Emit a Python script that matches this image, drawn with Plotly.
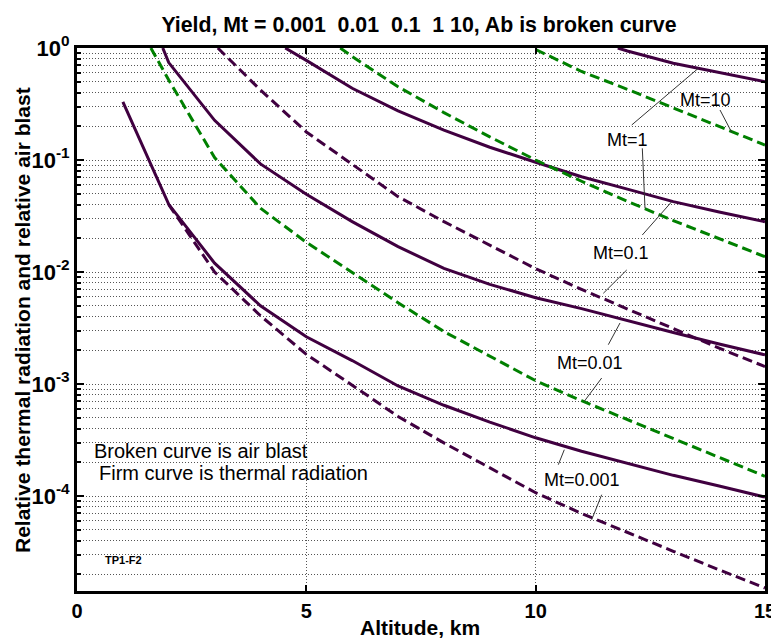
import plotly.graph_objects as go
import numpy as np

# ---------------- data ----------------
# altitude in km, relative values (thermal radiation = firm, air blast = broken)
thermal_0001_alt = [1, 2, 3, 4, 5, 6, 7, 8, 9, 10, 11, 12, 13, 14, 15]
thermal_0001 = [0.33, 0.0402, 0.0120, 0.0050, 0.00264, 0.00162, 0.00096, 0.000646,
                0.000457, 0.000331, 0.000251, 0.000195, 0.000153, 0.000123, 0.0000977]

blast_0001_alt = [2, 3, 4, 5, 6, 7, 8, 9, 10, 11, 12, 13, 14, 15]
blast_0001 = [0.040, 0.0100, 0.00407, 0.00184, 0.000977, 0.000513, 0.000298, 0.000178,
              0.000107, 6.99e-5, 4.71e-5, 3.21e-5, 2.19e-5, 1.51e-5]

thermal_001_alt = [1.87, 2, 3, 4, 5, 6, 7, 8, 9, 10, 11, 12, 13, 14, 15]
thermal_001 = [1.0, 0.741, 0.226, 0.0923, 0.0495, 0.0282, 0.01683, 0.01079, 0.00776,
               0.00589, 0.00471, 0.00367, 0.00288, 0.00228, 0.00182]

blast_001_alt = [1.61, 2, 3, 4, 5, 6, 7, 8, 9, 10, 11, 12, 13, 14, 15]
blast_001 = [1.0, 0.518, 0.105, 0.0371, 0.0184, 0.00986, 0.00532, 0.00294, 0.00178,
             0.00107, 0.00071, 0.00048, 0.000325, 0.00022, 0.00015]

thermal_01_alt = [4.54, 5, 6, 7, 8, 9, 10, 11, 12, 13, 14, 15]
thermal_01 = [1.0, 0.776, 0.437, 0.275, 0.185, 0.130, 0.0955, 0.0708, 0.055, 0.0425,
              0.0343, 0.0281]

blast_01_alt = [3.07, 4, 5, 6, 7, 8, 9, 10, 11, 12, 13, 14, 15]
blast_01 = [1.0, 0.422, 0.178, 0.0908, 0.0471, 0.0282, 0.0173, 0.0107, 0.0070, 0.00468,
            0.00313, 0.00209, 0.00143]

thermal_1_alt = [11.79, 12, 13, 14, 15]
thermal_1 = [1.0, 0.94, 0.73, 0.607, 0.50]

blast_1_alt = [5.74, 6, 7, 8, 9, 10, 11, 12, 13, 14, 15]
blast_1 = [1.0, 0.839, 0.451, 0.265, 0.161, 0.100, 0.0646, 0.0427, 0.0288, 0.020, 0.0137]

blast_10_alt = [10, 11, 12, 13, 14, 15]
blast_10 = [0.97, 0.617, 0.427, 0.291, 0.20, 0.136]

x_tick_vals = [0, 5, 10, 15]
y_tick_vals = [1e-4, 1e-3, 1e-2, 1e-1, 1]
y_tick_text = ["10<sup>-4</sup>", "10<sup>-3</sup>", "10<sup>-2</sup>", "10<sup>-1</sup>", "10<sup>0</sup>"]

title_text = "Yield, Mt = 0.001\u00a0\u00a00.01\u00a0\u00a00.1\u00a0\u00a01 10, Ab is broken curve"
label_texts = ["Mt=10", "Mt=1", "Mt=0.1", "Mt=0.01", "Mt=0.001"]

# ---------------- styling ----------------
FONT = "Liberation Sans, Arial, sans-serif"
PURPLE = "#400040"
GREEN = "#008000"
DASH = "10px,5px"
W, H = 779, 639
OFF = 8                      # page body offset of the figure on screen
SL, SR, ST, SB = 77, 765, 48, 591   # plot-area edges in screen pixels
L, T = SL - OFF, ST - OFF
R = W - (SR - OFF)
B = H - (SB - OFF)
PW, PH = SR - SL, SB - ST


def px(xs):
    return (xs - SL) / PW


def py(ys):
    return (SB - ys) / PH


fig = go.Figure()

curves = [
    (thermal_0001_alt, thermal_0001, PURPLE, "solid"),
    (blast_0001_alt, blast_0001, PURPLE, DASH),
    (thermal_001_alt, thermal_001, PURPLE, "solid"),
    (blast_001_alt, blast_001, GREEN, DASH),
    (thermal_01_alt, thermal_01, PURPLE, "solid"),
    (blast_01_alt, blast_01, PURPLE, DASH),
    (thermal_1_alt, thermal_1, PURPLE, "solid"),
    (blast_1_alt, blast_1, GREEN, DASH),
    (blast_10_alt, blast_10, GREEN, DASH),
]
for xs, ys, col, dash in curves:
    fig.add_trace(go.Scatter(x=xs, y=ys, mode="lines",
                             line=dict(color=col, width=3, dash=dash),
                             showlegend=False, hoverinfo="skip"))

ymin = 10 ** -4.848
minor_vals = [k * 10.0 ** d for d in range(-5, 0) for k in range(2, 10) if k * 10.0 ** d > ymin]

GRIDCOL = "#555555"
GDASH = "1px,2px"
fig.update_xaxes(range=[0, 15], tickmode="array", tickvals=x_tick_vals,
                 ticks="inside", ticklen=6, tickwidth=2, tickcolor="black",
                 showline=True, linewidth=3, linecolor="black", mirror="ticks",
                 showgrid=True, gridcolor=GRIDCOL, griddash=GDASH, gridwidth=1,
                 zeroline=False, automargin=False,
                 tickfont=dict(family=FONT, size=20, color="black", weight="bold"))
fig.update_yaxes(type="log", range=[-4.848, 0], tickmode="array",
                 tickvals=y_tick_vals, ticktext=y_tick_text,
                 ticks="inside", ticklen=7, tickwidth=2, tickcolor="black",
                 showline=True, linewidth=3, linecolor="black", mirror="allticks",
                 showgrid=True, gridcolor=GRIDCOL, griddash=GDASH, gridwidth=1,
                 zeroline=False, automargin=False,
                 tickfont=dict(family=FONT, size=22, color="black", weight="bold"),
                 minor=dict(tickmode="array", tickvals=minor_vals, ticks="inside",
                            ticklen=4, tickwidth=1.5, tickcolor="black",
                            showgrid=True, gridcolor=GRIDCOL, griddash=GDASH, gridwidth=1))

fig.update_layout(
    width=W, height=H,
    margin=dict(l=L, r=R, t=T, b=B, pad=0, autoexpand=False),
    plot_bgcolor="white", paper_bgcolor="white",
    title=dict(text="<b>" + title_text + "</b>", x=px(419), xref="paper",
               y=1 - (25 - OFF) / H, yref="container", yanchor="middle", xanchor="center",
               automargin=False,
               font=dict(family=FONT, size=21.3, color="black")),
)

ann = []
# axis titles
ann.append(dict(text="<b>Relative thermal radiation and relative air blast</b>",
                x=px(22), y=py(320), xref="paper", yref="paper", textangle=-90,
                xanchor="center", yanchor="middle",
                showarrow=False, font=dict(family=FONT, size=21, color="black")))
ann.append(dict(text="<b>Altitude, km</b>", x=px(420), y=py(627), xref="paper", yref="paper",
                xanchor="center", yanchor="middle",
                showarrow=False, font=dict(family=FONT, size=21, color="black")))

# curve labels
label_pos = [(705, 100), (627, 140), (621, 253), (590, 363), (582, 480)]
for t, (lx, ly) in zip(label_texts, label_pos):
    ann.append(dict(text=t, x=px(lx), y=py(ly), xref="paper", yref="paper",
                    xanchor="center", yanchor="middle",
                    showarrow=False, font=dict(family=FONT, size=18, color="black")))

# notes
ann.append(dict(text="Broken curve is air blast", x=px(92), y=py(451), xref="paper", yref="paper",
                xanchor="left", yanchor="middle", showarrow=False,
                font=dict(family=FONT, size=20, color="black")))
ann.append(dict(text="Firm curve is thermal radiation", x=px(97), y=py(473), xref="paper", yref="paper",
                xanchor="left", yanchor="middle", showarrow=False,
                font=dict(family=FONT, size=20, color="black")))
ann.append(dict(text="<b>TP1-F2</b>", x=px(103), y=py(560), xref="paper", yref="paper",
                xanchor="left", yanchor="middle", showarrow=False,
                font=dict(family=FONT, size=11, color="black")))
fig.update_layout(annotations=ann)

# leader lines
leaders = [
    ((720, 110), (731.7, 132.3)),
    ((631.7, 125), (698.3, 68.3)),
    ((642.3, 148.3), (645, 208.3)),
    ((642.3, 235), (671.7, 201.7)),
    ((626.7, 270), (603.3, 293.3)),
    ((608.3, 344.7), (620, 323)),
    ((601.7, 378), (584.3, 401.3)),
    ((558.3, 464.7), (564.3, 449.7)),
    ((601.7, 494.7), (591.7, 519.7)),
]
for (x0, y0), (x1, y1) in leaders:
    fig.add_shape(type="line", xref="paper", yref="paper",
                  x0=px(x0), y0=py(y0), x1=px(x1), y1=py(y1),
                  line=dict(color="#333333", width=1))

fig.write_html("out.html")
